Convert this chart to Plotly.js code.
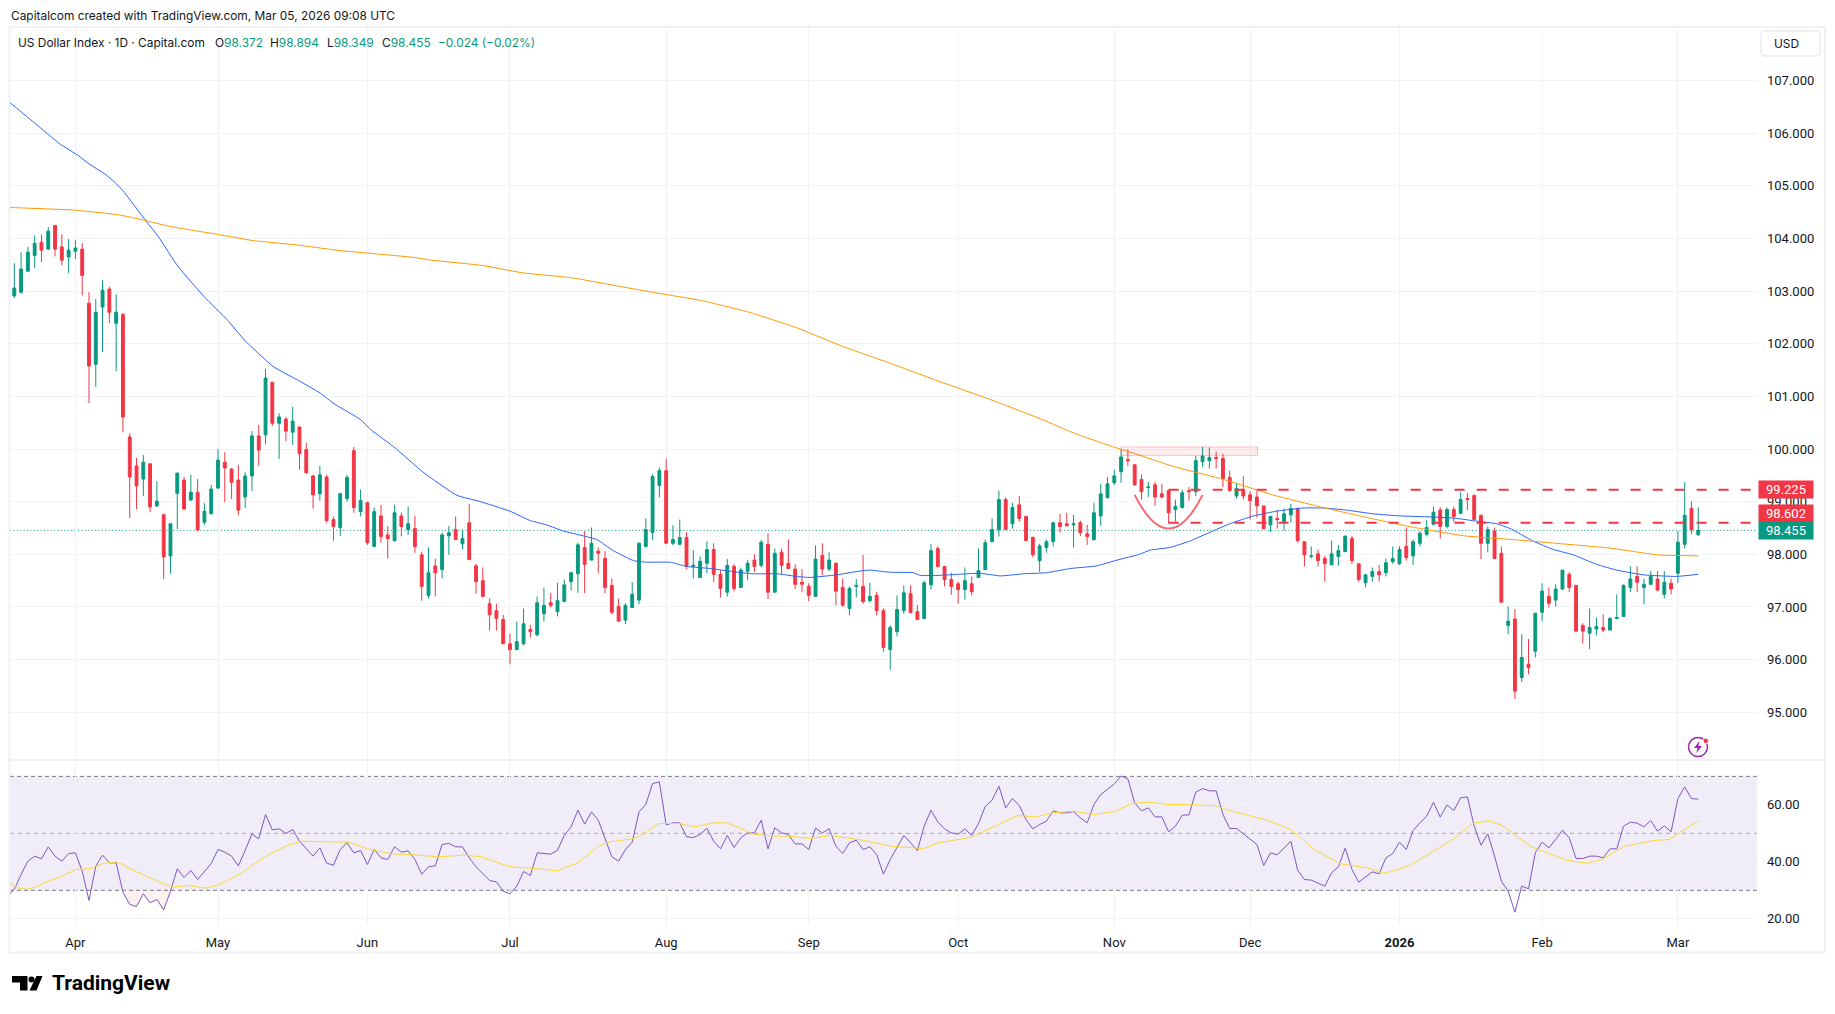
<!DOCTYPE html>
<html><head><meta charset="utf-8">
<script src="https://cdn.plot.ly/plotly-3.0.1.min.js"></script>
<style>html,body{margin:0;padding:0;background:#fff;overflow:hidden}#c{width:1835px;height:1014px}</style>
</head><body><div id="c"></div>
<script>
const opens=[
102.91,102.98,103.38,103.68,103.93,103.80,104.25,103.84,103.65,103.76,
103.80,102.77,101.61,102.70,103.04,102.39,102.56,100.23,99.68,99.43,
99.72,98.92,98.75,97.97,99.16,99.41,99.03,99.18,98.61,98.77,
99.26,99.75,99.62,99.41,99.09,99.49,100.25,100.27,101.27,100.49,
100.57,100.32,100.42,99.99,99.49,99.15,99.47,98.66,98.51,99.06,
99.97,98.81,98.98,98.15,98.73,98.37,98.26,98.73,98.47,98.49,
97.99,97.22,97.78,97.71,98.35,98.47,98.20,98.60,97.78,97.50,
97.06,96.93,96.76,96.30,96.19,96.30,96.57,96.47,96.87,97.08,
96.91,97.10,97.48,97.63,98.13,97.89,98.06,97.92,97.41,97.01,
96.75,96.99,97.13,98.15,98.42,99.31,99.59,98.21,98.19,98.32,
97.77,97.56,97.83,98.09,97.62,97.28,97.77,97.37,97.68,97.89,
97.79,98.19,97.28,98.04,97.83,97.72,97.47,97.39,97.20,97.98,
97.72,97.83,97.37,96.97,97.39,97.39,97.12,97.22,96.93,96.19,
96.53,96.93,97.25,96.91,96.78,97.42,98.11,97.77,97.52,97.44,
97.33,97.44,97.56,97.71,98.24,98.47,99.04,98.58,98.94,98.72,
98.32,97.88,98.13,98.24,98.60,98.58,98.56,98.60,98.39,98.28,
98.73,99.08,99.36,99.57,99.80,99.70,99.42,99.27,99.32,99.15,
99.21,98.85,98.89,99.21,99.19,99.76,99.78,99.84,99.82,99.46,
99.11,99.23,99.13,99.09,98.92,98.56,98.68,98.62,98.75,98.87,
98.24,97.96,98.01,97.92,97.80,97.96,98.05,98.30,97.82,97.46,
97.58,97.67,97.65,97.86,97.82,98.15,97.97,98.21,98.38,98.57,
98.84,98.53,98.85,98.78,99.06,99.12,98.74,98.21,98.44,98.02,
96.65,96.77,95.66,95.91,96.16,96.90,97.20,97.13,97.34,97.62,
97.41,96.65,96.50,96.58,96.61,96.56,96.78,96.82,97.37,97.58,
97.37,97.43,97.53,97.24,97.45,97.64,98.19,98.87,98.372];
const highs=[
103.53,103.74,103.84,104.06,104.08,104.22,104.25,104.08,103.99,103.97,
103.91,102.98,102.85,103.21,103.09,102.94,102.58,100.30,99.83,99.89,
99.72,99.39,98.77,98.59,99.56,99.47,99.51,99.43,98.97,99.32,
100.00,99.94,99.64,99.70,99.56,100.34,100.46,101.52,101.27,100.68,
100.61,100.80,100.42,100.12,99.51,99.68,99.51,98.72,99.17,99.51,
100.04,99.23,99.00,98.89,98.94,98.54,98.94,98.79,98.91,98.73,
98.05,98.13,97.92,98.41,98.54,98.72,98.47,98.96,97.82,97.75,
97.16,97.06,96.85,96.49,96.72,96.97,96.66,97.20,97.37,97.27,
97.46,97.52,97.67,98.22,98.44,98.51,98.13,98.06,97.54,97.16,
97.07,97.47,98.23,98.68,99.52,99.65,99.82,98.55,98.66,98.42,
98.08,97.96,98.25,98.21,97.70,97.91,97.81,97.75,97.89,98.00,
98.27,98.40,98.11,98.11,98.28,97.81,97.72,97.45,98.17,98.21,
98.04,97.85,97.54,97.39,97.53,97.99,97.46,97.29,96.97,96.65,
97.22,97.41,97.41,97.04,97.50,98.20,98.15,97.78,97.65,97.48,
97.75,97.58,98.11,98.28,98.68,99.21,99.08,98.98,99.11,98.72,
98.34,98.20,98.28,98.62,98.77,98.79,98.75,98.64,98.56,98.98,
99.34,99.47,99.61,99.99,99.99,99.72,99.51,99.38,99.38,99.34,
99.23,99.04,99.23,99.28,99.87,100.04,100.03,99.95,99.91,99.59,
99.36,99.49,99.20,99.20,98.92,98.73,98.85,98.87,98.96,98.89,
98.24,98.15,98.09,97.97,98.26,98.18,98.37,98.35,97.82,97.63,
97.75,97.80,97.92,98.15,98.15,98.51,98.28,98.44,98.65,98.91,
98.89,98.89,98.91,99.18,99.16,99.14,98.76,98.53,98.51,98.15,
97.01,96.96,96.48,96.39,96.88,97.45,97.37,97.43,97.70,97.66,
97.41,96.69,96.97,96.80,96.86,96.80,97.24,97.43,97.77,97.77,
97.54,97.68,97.68,97.68,97.54,98.44,99.37,99.01,98.894];
const lows=[
102.87,102.95,103.36,103.44,103.55,103.78,103.66,103.49,103.34,103.61,
102.92,100.87,101.18,101.84,102.39,101.48,100.32,98.69,98.86,99.11,
98.80,98.90,97.53,97.63,98.48,98.84,99.03,98.46,98.56,98.77,
99.24,98.99,99.05,98.75,98.88,99.20,99.68,100.09,100.44,99.81,
100.15,100.08,99.61,99.53,98.87,99.02,98.60,98.26,98.35,99.00,
98.79,98.72,98.18,98.15,98.22,97.92,98.24,98.34,98.37,98.03,
97.12,97.16,97.20,97.54,97.99,98.28,98.09,97.90,97.25,97.18,
96.55,96.55,96.30,95.91,96.19,96.27,96.42,96.44,96.72,96.99,
96.82,97.10,97.31,97.27,97.26,97.89,97.64,97.26,96.86,96.73,
96.67,96.99,97.05,98.13,98.27,99.08,98.19,98.17,98.17,97.72,
97.54,97.56,97.64,97.47,97.18,97.20,97.30,97.37,97.51,97.66,
97.75,97.15,97.28,97.62,97.72,97.34,97.28,97.11,97.20,97.60,
97.68,97.03,97.01,96.84,97.18,97.06,97.08,96.84,96.15,95.81,
96.44,96.87,96.89,96.76,96.78,97.33,97.75,97.39,97.23,97.06,
97.14,97.22,97.56,97.71,98.24,98.34,98.47,98.49,98.62,98.26,
97.94,97.67,98.03,98.15,98.41,98.54,98.13,98.35,98.18,98.26,
98.54,99.06,99.32,99.36,99.68,99.30,99.04,99.09,98.92,99.06,
98.58,98.62,98.87,99.02,99.11,99.66,99.63,99.63,99.28,99.19,
99.06,99.04,98.66,98.70,98.47,98.43,98.49,98.45,98.60,98.22,
97.77,97.92,97.77,97.48,97.80,97.78,98.05,97.82,97.48,97.37,
97.48,97.48,97.58,97.82,97.80,97.88,97.80,98.15,98.34,98.55,
98.30,98.49,98.61,98.76,98.84,98.66,97.91,98.04,97.92,97.09,
96.48,95.25,95.57,95.72,96.04,96.73,96.99,97.01,97.32,97.28,
96.52,96.31,96.20,96.46,96.52,96.56,96.77,96.82,97.28,97.28,
97.05,97.43,97.30,97.16,97.24,97.45,98.11,98.38,98.349];
const closes=[
103.06,103.42,103.74,103.91,103.78,104.14,103.80,103.59,103.78,103.82,
103.30,101.58,102.60,103.02,102.60,102.60,100.61,99.47,99.30,99.75,
98.90,99.01,97.95,98.58,99.54,98.86,99.18,98.46,98.82,99.24,
99.79,99.64,99.37,98.84,99.49,100.25,99.98,101.35,100.49,100.61,
100.34,100.53,99.91,99.55,99.13,99.51,98.64,98.53,99.15,99.46,
98.89,99.02,98.22,98.81,98.34,98.30,98.79,98.53,98.58,98.15,
97.39,97.65,97.65,98.37,98.41,98.28,98.30,97.90,97.48,97.20,
96.85,96.78,96.30,96.19,96.34,96.68,96.53,97.08,97.03,97.03,
97.12,97.42,97.65,98.18,97.81,98.21,98.02,97.37,96.90,96.73,
97.03,97.24,98.21,98.47,99.48,99.59,98.21,98.28,98.32,97.77,
97.79,97.87,98.09,97.62,97.35,97.79,97.35,97.70,97.83,97.77,
98.23,97.28,98.02,97.79,97.73,97.43,97.43,97.22,97.91,97.72,
97.89,97.30,97.03,97.35,97.41,97.10,97.20,96.93,96.23,96.61,
96.95,97.27,96.89,96.76,97.46,98.07,97.77,97.52,97.39,97.33,
97.50,97.29,97.69,98.22,98.47,99.04,98.47,98.89,98.68,98.26,
97.99,98.16,98.24,98.60,98.53,98.54,98.58,98.41,98.34,98.79,
99.15,99.34,99.49,99.85,99.78,99.32,99.19,99.28,99.09,99.09,
98.79,98.91,99.17,99.19,99.78,99.87,99.84,99.82,99.44,99.21,
99.25,99.11,99.02,98.92,98.49,98.72,98.66,98.77,98.87,98.26,
97.99,97.97,97.88,97.82,98.01,98.07,98.34,97.88,97.52,97.61,
97.67,97.61,97.84,97.92,98.09,97.94,98.24,98.40,98.51,98.80,
98.53,98.85,98.72,99.04,99.04,98.66,98.21,98.47,97.92,97.09,
96.73,95.40,96.04,95.85,96.88,97.30,97.07,97.34,97.70,97.37,
96.54,96.54,96.61,96.63,96.56,96.78,96.80,97.41,97.53,97.47,
97.43,97.58,97.32,97.47,97.34,98.23,98.74,98.47,98.455];

const ma50Idx=[-0.6,3.7,6.6,9.5,11,13.2,14.8,16,19.3,21.2,24.1,28,31.4,33.9,38.1,41.9,45.1,47.1,51,52.5,56.1,60.2,65.2,68.4,73,76,78.4,80.9,83.8,85.8,88.2,91.2,93.1,96.6,99,102.5,105.9,108.8,112.3,115.2,117.2,121.1,124.4,126,128.9,132.4,133.4,136.3,142.2,145.2,148.6,152,155.5,159.4,162.4,165.7,167.3,170.2,173.1,176.1,179,182.5,185.9,189.8,192.8,196.2,200.1,204.1,208.5,211.9,215.4,218.3,220.3,223.7,226.7,229.6,233,236,239.9,244.8,248];
const ma50Val=[106.58,106.12,105.81,105.57,105.42,105.24,105.07,104.91,104.35,104.04,103.47,102.89,102.45,102.07,101.57,101.30,101.06,100.86,100.56,100.37,100.02,99.56,99.12,99.01,98.82,98.64,98.56,98.44,98.35,98.28,98.07,97.88,97.85,97.85,97.77,97.73,97.67,97.63,97.63,97.58,97.56,97.61,97.68,97.70,97.66,97.65,97.60,97.60,97.64,97.59,97.63,97.65,97.73,97.78,97.89,98.00,98.08,98.13,98.25,98.42,98.58,98.73,98.82,98.88,98.88,98.84,98.77,98.73,98.71,98.69,98.63,98.58,98.49,98.25,98.09,97.99,97.81,97.70,97.61,97.58,97.62];
const ma200Idx=[-0.6,8.9,15.4,19.1,22.9,29.9,35.2,41.6,47.4,53.2,59,61.4,68.9,74.8,82.3,89.2,94.4,101.3,108.2,115.1,122,128.8,135.7,144.4,151.4,156.1,161.9,164.9,170.7,178.2,185.3,192.4,199.5,206.6,213.6,220.7,227.9,234.9,242,248];
const ma200Val=[104.59,104.54,104.45,104.35,104.23,104.08,103.96,103.88,103.78,103.71,103.64,103.59,103.49,103.35,103.25,103.09,102.97,102.82,102.60,102.31,101.95,101.64,101.31,100.91,100.56,100.30,100.04,99.92,99.67,99.42,99.13,98.90,98.69,98.50,98.35,98.28,98.20,98.12,97.99,97.97];

/* RSI, one value per bar starting at bar -1 */
const rsiVal=[28.0,30.3,35.56,
40.23,41.99,41.05,45.26,41.99,40.23,42.92,43.16,36.73,26.43,
38.48,42.34,39.65,39.65,29.36,25.03,24.33,28.77,25.61,26.78,
23.16,29.71,37.54,34.5,36.96,33.8,36.6,39.42,44.33,43.39,
41.99,38.6,43.98,49.82,48.07,56.61,51.23,51.58,49.94,51.35,
47.25,44.56,41.99,44.91,39.53,38.83,44.33,46.67,43.16,43.98,
39.06,44.33,41.40,40.82,45.26,43.39,43.86,40.82,35.67,38.25,
38.6,46.08,46.43,45.26,45.26,41.4,38.25,35.91,33.45,32.98,
29.71,28.77,31.46,36.61,35.2,43.16,42.81,42.69,44.09,49.24,
52.28,58.13,53.22,57.54,54.62,47.84,41.75,40.23,44.33,46.9,
57.54,60.12,67.49,68.07,52.98,53.68,53.68,48.77,48.54,49.59,
51.81,47.25,44.56,49.24,45.03,48.42,50.18,50.18,54.62,44.56,
51.93,50.18,49.59,46.32,46.32,44.33,51.81,50.18,51.58,45.5,
42.92,46.67,47.6,44.33,45.26,42.57,35.67,40.82,45.26,49.24,
46.67,43.98,52.51,58.13,54.04,51.58,50.18,49.71,51.58,49.24,
53.45,59.53,61.64,66.55,58.95,62.22,59.77,54.85,51.58,53.1,
54.27,57.89,57.19,57.19,57.66,55.44,53.68,60.12,63.63,65.38,
67.37,70.18,69.12,60.7,57.89,58.95,55.79,55.79,50.53,52.51,
56.37,56.49,64.44,65.73,64.91,64.91,56.61,51.7,51.7,49.82,
48.07,46.08,38.71,43.16,42.46,44.8,47.25,37.08,33.8,33.57,
32.63,31.46,36.14,38.25,44.8,37.31,32.87,34.74,36.49,35.79,
41.4,42.92,46.9,44.33,50.99,53.68,56.02,60.94,55.67,60,
58.01,62.46,62.81,52.51,45.85,49.82,41.99,33.22,29.71,22.34,
31.46,30.53,43.16,46.9,44.91,47.84,51.11,48.42,41.17,41.17,
41.99,41.99,41.4,44.56,44.56,52.51,53.92,53.57,52.28,54.5,
50.76,52.63,50.53,62.22,66.32,62.22,61.99];
const rsiMaIdx=[-0.6,0.5,1.8,3.1,4.8,7,9.1,11.3,13,15.2,17.3,20.8,23.4,25.5,28.1,29.9,33.3,37.2,40.2,42.4,46.3,49.3,51.9,55.4,58.4,62.3,66.2,68.8,73,76,80,83,86,87.8,91.2,93,94.9,97.7,100.3,102.9,105,108.9,112,114.1,117.2,120.2,124.9,129.3,134,136.1,141,143.9,146,147.8,150.4,153,156,159,162,164.6,167.2,169.8,172.4,176.7,179.3,184.5,188,191.4,195.3,199.2,201.8,205.3,209.6,212.2,214.8,217.2,219.1,223.4,228.6,231.6,233.8,237.2,241.5,243.7,248];
const rsiMaVal=[32.4,30.88,30.29,31.11,32.98,34.97,37.31,37.66,39.42,40,37.31,33.45,31.11,31.7,30.76,31.7,35.79,42.22,45.73,47.25,47.02,46.9,44.68,42.81,42.57,41.75,42.34,41.75,38.25,37.78,36.84,39.65,45.5,47.02,48.19,50.18,53.45,53.45,52.28,53.68,53.68,49.71,49,49,48.19,49.24,47.6,45.38,44.68,46.67,48.65,51.93,54.27,56.26,55.79,57.19,57.78,56.61,57.66,60.47,60.94,60.12,60.12,59.77,57.78,54.62,51.35,44.33,39.3,37.89,36.02,38.48,44.56,48.42,53.45,54.5,52.75,45.26,40.58,39.53,40.82,45.5,47.49,47.84,54.39];

const monthIdx=[9,30,52,73,96,117,139,162,182,204,225,245];
const monthLabels=['Apr','May','Jun','Jul','Aug','Sep','Oct','Nov','Dec','<b>2026</b>','Feb','Mar'];
const priceTicks=[95,96,97,98,99,100,101,102,103,104,105,106,107];
const rsiTicks=[20,40,60];
const rsiLevels=[70,50,30];
const lastPrice=98.455, levelHigh=99.225, levelLow=98.602;
const ohlcLabels=['O','H','L','C'];
const ohlcValues=['98.372','98.894','98.349','98.455'];

const GREEN='#089981', RED='#f23645', GRID='#f2f3f6', TXT='#131722', FONT='Roboto, sans-serif', HEAD='Inter, sans-serif';
const L=10,T=27,W=1747,H=898.5;
const px=x=>(x-L)/W, py=y=>(T+H-y)/H;
const bars=opens.map((_,i)=>i);
const xr=[-0.633,256.65];

const rsiX=rsiVal.map((_,k)=>k-1);
const osX=[],osY=[];
for(let k=0;k<rsiVal.length;k++){const i=rsiX[k]; if(i>=15&&i<=24){osX.push(i);osY.push(Math.min(rsiVal[k],30));}}

const traces=[
 {type:'candlestick',x:bars,open:opens,high:highs,low:lows,close:closes,xaxis:'x',yaxis:'y',whiskerwidth:0,
  increasing:{line:{color:GREEN,width:1},fillcolor:GREEN},decreasing:{line:{color:RED,width:1},fillcolor:RED},hoverinfo:'skip'},
 {type:'scatter',mode:'lines',x:ma50Idx,y:ma50Val,xaxis:'x',yaxis:'y',line:{color:'#2962ff',width:1,shape:'spline',smoothing:0.4},hoverinfo:'skip'},
 {type:'scatter',mode:'lines',x:ma200Idx,y:ma200Val,xaxis:'x',yaxis:'y',line:{color:'#ff9800',width:1,shape:'spline',smoothing:0.4},hoverinfo:'skip'},
 {type:'scatter',mode:'lines',x:osX.concat(osX.slice().reverse()),y:osY.concat(osY.map(()=>30)),xaxis:'x2',yaxis:'y2',fill:'toself',fillcolor:'rgba(242,54,69,0.07)',line:{width:0},hoverinfo:'skip'},
 {type:'scatter',mode:'lines',x:rsiX,y:rsiVal,xaxis:'x2',yaxis:'y2',line:{color:'#7e57c2',width:1},hoverinfo:'skip'},
 {type:'scatter',mode:'lines',x:rsiMaIdx,y:rsiMaVal,xaxis:'x2',yaxis:'y2',line:{color:'#fdd835',width:1},hoverinfo:'skip'}
];

const shapes=[
 {type:'rect',xref:'paper',yref:'y2',x0:0,x1:1,y0:30,y1:70,fillcolor:'rgba(126,87,194,0.115)',line:{width:0},layer:'below'},
 ...rsiLevels.map(v=>({type:'line',xref:'paper',yref:'y2',x0:0,x1:1,y0:v,y1:v,line:{color:'#787b86',width:1,dash:v===50?'4px,4px':'4px,3px'},layer:'below',opacity:v===50?0.6:1})),
 {type:'line',xref:'paper',yref:'y',x0:0,x1:1,y0:lastPrice,y1:lastPrice,line:{color:GREEN,width:1,dash:'1px,2.4px'},layer:'below'},
 {type:'rect',xref:'x',yref:'y',x0:163,x1:183.1,y0:99.88,y1:100.04,fillcolor:'rgba(242,54,69,0.09)',line:{color:'rgba(242,54,69,0.28)',width:1}},
 {type:'line',xref:'x',yref:'y',x0:170,x1:xr[1],y0:levelHigh,y1:levelHigh,line:{color:RED,width:2,dash:'10px,12px'}},
 {type:'line',xref:'x',yref:'y',x0:170,x1:xr[1],y0:levelLow,y1:levelLow,line:{color:RED,width:2,dash:'10px,12px'}},
 {type:'path',xref:'x',yref:'y',path:'M 165 99.13 Q 170 97.85 175 99.13',line:{color:'rgba(242,54,69,0.75)',width:2}},
 /* frame and pane separator */
 {type:'rect',xref:'paper',yref:'paper',x0:px(9.5),x1:px(1825),y0:py(953),y1:py(27),line:{color:'#f0f1f4',width:2},layer:'below'},
 {type:'line',xref:'paper',yref:'paper',x0:px(10),x1:px(1825),y0:py(760.5),y1:py(760.5),line:{color:'#f0f1f4',width:2},layer:'below'},
 /* USD box */
 {type:'path',xref:'paper',yref:'paper',path:`M ${px(1764)} ${py(31)} L ${px(1817)} ${py(31)} Q ${px(1820)} ${py(31)} ${px(1820)} ${py(34)} L ${px(1820)} ${py(53)} Q ${px(1820)} ${py(56)} ${px(1817)} ${py(56)} L ${px(1764)} ${py(56)} Q ${px(1761)} ${py(56)} ${px(1761)} ${py(53)} L ${px(1761)} ${py(34)} Q ${px(1761)} ${py(31)} ${px(1764)} ${py(31)} Z`,line:{color:'#e0e3eb',width:1}},
 /* replay icon */
 {type:'circle',xref:'paper',yref:'paper',x0:px(1688.5),x1:px(1707.5),y0:py(757),y1:py(738),line:{color:'#9c27b0',width:1.5},fillcolor:'#fff'},
 {type:'path',xref:'paper',yref:'paper',path:`M ${px(1699.5)} ${py(741.5)} L ${px(1694)} ${py(748.5)} L ${px(1697.5)} ${py(748.5)} L ${px(1696.5)} ${py(753.5)} L ${px(1702)} ${py(746.5)} L ${px(1698.5)} ${py(746.5)} Z`,fillcolor:'#9c27b0',line:{width:0}},
 {type:'circle',xref:'paper',yref:'paper',x0:px(1703),x1:px(1708.5),y0:py(744),y1:py(738.5),fillcolor:RED,line:{color:'#fff',width:1}},
 /* TradingView mark */
 {type:'path',xref:'paper',yref:'paper',path:`M ${px(12)} ${py(976.5)} L ${px(27.5)} ${py(976.5)} L ${px(27.5)} ${py(991)} L ${px(20)} ${py(991)} L ${px(20)} ${py(983)} L ${px(12)} ${py(983)} Z`,fillcolor:'#000',line:{width:0}},
 {type:'circle',xref:'paper',yref:'paper',x0:px(28.5),x1:px(34.5),y0:py(983),y1:py(977),fillcolor:'#000',line:{width:0}},
 {type:'path',xref:'paper',yref:'paper',path:`M ${px(36.5)} ${py(976.5)} L ${px(42.5)} ${py(976.5)} L ${px(36.5)} ${py(991)} L ${px(29.5)} ${py(991)} Z`,fillcolor:'#000',line:{width:0}}
];

const g=s=>`<span style="color:${GREEN}">${s}</span>`;
const sideLabel=(v,color,shift)=>({xref:'paper',yref:'y',x:1,y:v,xanchor:'left',yanchor:'middle',xshift:1,yshift:shift||0,text:v.toFixed(3),showarrow:false,bgcolor:color,width:54,height:17,align:'center',borderpad:0,font:{family:FONT,size:13,color:'#fff'}});
const headText=(x,y,text,color)=>({xref:'paper',yref:'paper',x:px(x),y:py(y),xanchor:'left',yanchor:'middle',showarrow:false,text,font:{family:HEAD,size:11.9,color:color||TXT}});
const ohlcX=[214,269.7,326.6,381];
const annotations=[
 headText(9,15.5,'Capitalcom created with TradingView.com, Mar 05, 2026 09:08 UTC'),
 headText(16,42.5,'US Dollar Index · 1D · Capital.com'),
 ...ohlcLabels.map((s,i)=>headText(ohlcX[i]-1.5,42.5,s+g(ohlcValues[i]))),
 headText(435.5,42.5,'−0.024 (−0.02%)',GREEN),
 headText(1772,44,'USD'),
 sideLabel(levelHigh,RED,0),sideLabel(levelLow,RED,9.5),sideLabel(lastPrice,GREEN,0),
 {xref:'paper',yref:'paper',x:px(50),y:py(984),xanchor:'left',yanchor:'middle',showarrow:false,text:'<b>TradingView</b>',font:{family:FONT,size:21,color:'#000'}}
];

const yBase={side:'right',showline:false,zeroline:false,ticks:'',gridcolor:GRID,gridwidth:1,ticklabelstandoff:9,tickfont:{family:FONT,size:13,color:TXT},fixedrange:true,tickmode:'array'};
const xBase={type:'linear',range:xr,showline:false,zeroline:false,ticks:'',gridcolor:GRID,gridwidth:1,tickmode:'array',tickvals:monthIdx,ticktext:monthLabels,fixedrange:true,tickfont:{family:FONT,size:13,color:TXT}};
const layout={
 width:1835,height:1014,paper_bgcolor:'#fff',plot_bgcolor:'#fff',showlegend:false,hovermode:false,boxgap:0.4,
 margin:{l:L,r:78,t:T,b:1014-T-H,pad:0},font:{family:FONT,color:TXT},
 xaxis:{...xBase,domain:[0,1],anchor:'y',showticklabels:false,rangeslider:{visible:false}},
 xaxis2:{...xBase,domain:[0,1],anchor:'y2',matches:'x',showticklabels:true,ticklabelstandoff:8},
 yaxis:{...yBase,domain:[py(760.5),1],anchor:'x',range:[94.09,108.02],tickvals:priceTicks,ticktext:priceTicks.map(v=>v.toFixed(3))},
 yaxis2:{...yBase,domain:[0,py(760.5)],anchor:'x2',range:[17.82,75.72],tickvals:rsiTicks,ticktext:rsiTicks.map(v=>v.toFixed(2))},
 shapes,annotations
};
Plotly.newPlot('c',traces,layout,{displayModeBar:false,responsive:false});
</script></body></html>
